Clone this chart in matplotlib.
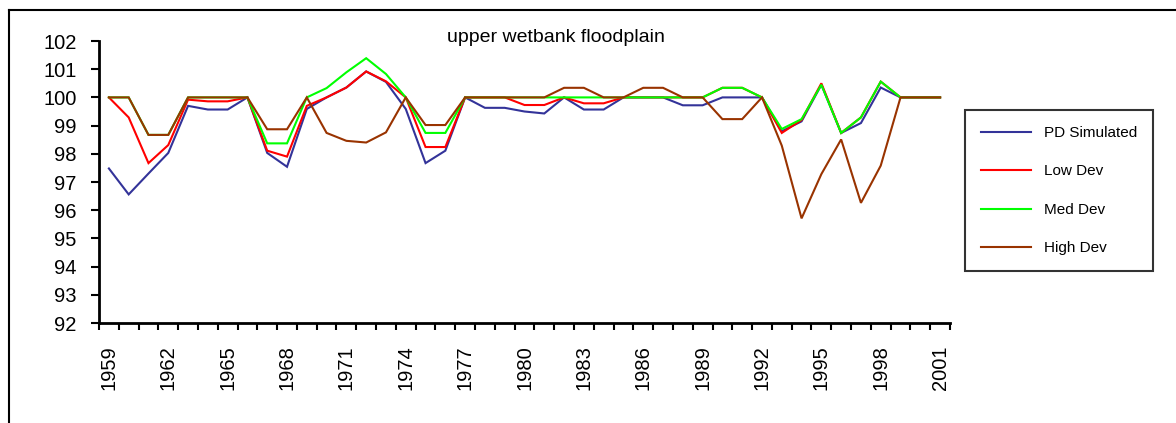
import numpy as np
import matplotlib
matplotlib.use('Agg')
import matplotlib.pyplot as plt
from matplotlib.lines import Line2D

plt.rcParams['font.family'] = ['Liberation Sans', 'DejaVu Sans']

# Data
years = list(range(1959, 2002))
pd_simulated = [97.48, 96.56, 97.3, 98.03, 99.7, 99.57, 99.57, 100.0, 98.03, 97.54,
                99.59, 100.0, 100.35, 100.92, 100.55, 99.59, 97.67, 98.11, 100.0, 99.63,
                99.63, 99.5, 99.43, 100.0, 99.57, 99.57, 100.0, 100.0, 100.0, 99.72,
                99.72, 100.0, 100.0, 100.0, 98.8, 99.15, 100.45, 98.74, 99.09, 100.35,
                100.0, 100.0, 100.0]
low_dev = [100.0, 99.29, 97.67, 98.31, 99.92, 99.86, 99.86, 100.0, 98.11, 97.9,
           99.7, 100.0, 100.35, 100.92, 100.57, 100.0, 98.24, 98.24, 100.0, 100.0,
           100.0, 99.73, 99.73, 100.0, 99.79, 99.79, 100.0, 100.0, 100.0, 100.0,
           100.0, 100.34, 100.34, 100.0, 98.74, 99.2, 100.5, 98.74, 99.29, 100.56,
           100.0, 100.0, 100.0]
med_dev = [100.0, 100.0, 98.67, 98.67, 100.0, 100.0, 100.0, 100.0, 98.37, 98.37,
           100.0, 100.33, 100.89, 101.39, 100.83, 100.0, 98.74, 98.74, 100.0, 100.0,
           100.0, 100.0, 100.0, 100.0, 100.0, 100.0, 100.0, 100.0, 100.0, 100.0,
           100.0, 100.34, 100.34, 100.0, 98.88, 99.23, 100.45, 98.74, 99.29, 100.56,
           100.0, 100.0, 100.0]
high_dev = [100.0, 100.0, 98.67, 98.67, 100.0, 100.0, 100.0, 100.0, 98.87, 98.87,
            100.0, 98.74, 98.46, 98.4, 98.76, 100.0, 99.02, 99.02, 100.0, 100.0,
            100.0, 100.0, 100.0, 100.34, 100.34, 100.0, 100.0, 100.34, 100.34, 100.0,
            100.0, 99.23, 99.23, 100.0, 98.29, 95.71, 97.28, 98.51, 96.26, 97.58,
            100.0, 100.0, 100.0]
series_names = ['PD Simulated', 'Low Dev', 'Med Dev', 'High Dev']
colors = ['#333399', '#ff0000', '#00ff00', '#993300']
y_ticks = list(range(92, 103))

W, H = 1176, 423
fig = plt.figure(figsize=(W / 100, H / 100), dpi=100)
ax = fig.add_axes([99 / W, 1 - 323 / H, (950 - 99) / W, (323 - 41) / H])

x = np.arange(len(years))
handles = []
for vals, name, col in zip([pd_simulated, low_dev, med_dev, high_dev], series_names, colors):
    h, = ax.plot(x, vals, color=col, lw=1.5, label=name, solid_joinstyle='miter')
    handles.append(h)

ax.set_xlim(-0.5, len(years) - 0.5)
ax.set_ylim(92, 102)
ax.set_yticks(y_ticks)
ax.set_yticklabels([str(v) for v in y_ticks], fontsize=14.5)

# ticks between categories, labels every third year
ax.set_xticks(np.arange(len(years) + 1) - 0.5)
ax.set_xticklabels([])
ax.set_xticks(x[::3], minor=True)
ax.set_xticklabels([str(y) for y in years[::3]], minor=True, rotation=90, fontsize=14.5)
ax.tick_params(axis='x', which='minor', length=0, pad=16)
ax.tick_params(axis='x', which='major', length=5, width=1.5, direction='out')
ax.tick_params(axis='y', length=6, width=1.5, direction='out', pad=10)

for s in ['top', 'right']:
    ax.spines[s].set_visible(False)
for s in ['left', 'bottom']:
    ax.spines[s].set_linewidth(2)

fig.text(556 / W, 1 - 37 / H, 'upper wetbank floodplain', ha='center', va='center', fontsize=14)

leg = fig.legend(handles=handles, loc='upper left',
                 bbox_to_anchor=(965 / W, 1 - 110 / H), fontsize=11,
                 frameon=True, fancybox=False, edgecolor='black',
                 handlelength=3.3, handletextpad=0.8, labelspacing=1.6,
                 borderpad=1.05, borderaxespad=0)
leg.get_frame().set_linewidth(1.5)

# outer chart border (only left and top visible)
fig.add_artist(Line2D([9 / W, 9 / W], [0, 1 - 10 / H], color='black', lw=1.5))
fig.add_artist(Line2D([9 / W, 1], [1 - 10 / H, 1 - 10 / H], color='black', lw=1.5))

fig.savefig('out.png', dpi=100)
